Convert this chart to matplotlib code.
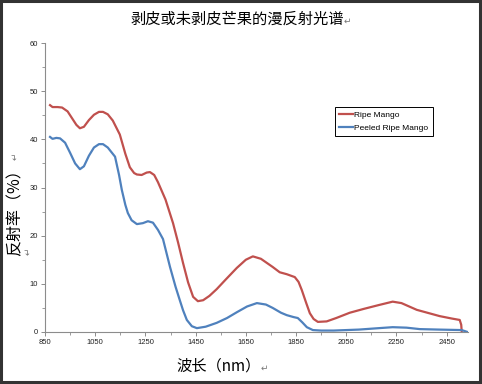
import matplotlib
matplotlib.use("Agg")
from matplotlib import pyplot as plt
from matplotlib.patches import Rectangle
from matplotlib.ticker import MultipleLocator, FixedLocator

plt.rcParams['font.family'] = ['Noto Sans CJK SC', 'DejaVu Sans']

# wavelength (nm) / reflectance (%)
ripe_wl = [870, 880, 900, 918, 940, 960, 975, 989, 1005, 1025, 1045, 1065, 1081, 1100,
           1120, 1148, 1170, 1188, 1205, 1216, 1235, 1255, 1268, 1285, 1300, 1330, 1360,
           1380, 1400, 1420, 1440, 1459, 1480, 1505, 1534, 1570, 1614, 1650, 1678, 1710,
           1757, 1785, 1813, 1845, 1860, 1873, 1890, 1905, 1920, 1937, 1972, 2010, 2064,
           2120, 2180, 2235, 2270, 2331, 2380, 2422, 2470, 2502, 2508, 2510]
ripe_r = [47.1, 46.7, 46.7, 46.6, 45.8, 44.2, 43.0, 42.3, 42.6, 44.0, 45.1, 45.7, 45.7, 45.2,
          43.9, 41.0, 37.0, 34.2, 33.0, 32.7, 32.6, 33.1, 33.2, 32.6, 31.1, 27.5, 22.6,
          18.6, 14.3, 10.3, 7.3, 6.4, 6.6, 7.5, 8.9, 10.9, 13.3, 15.0, 15.7, 15.2,
          13.5, 12.4, 12.0, 11.4, 10.4, 8.7, 6.1, 3.9, 2.7, 2.1, 2.2, 2.9, 4.0,
          4.8, 5.6, 6.3, 6.0, 4.6, 3.9, 3.3, 2.8, 2.5, 1.5, 0.1]

peeled_wl = [870, 880, 895, 910, 930, 950, 970, 989, 1005, 1025, 1045, 1065, 1081, 1100,
             1129, 1145, 1156, 1170, 1180, 1195, 1216, 1240, 1260, 1280, 1300, 1320, 1348,
             1370, 1387, 1400, 1415, 1435, 1455, 1490, 1534, 1575, 1614, 1655, 1694, 1730,
             1757, 1790, 1813, 1840, 1857, 1875, 1893, 1917, 1950, 2000, 2100, 2180, 2235,
             2290, 2343, 2420, 2510, 2533]
peeled_r = [40.5, 40.1, 40.3, 40.2, 39.3, 37.2, 35.0, 33.8, 34.4, 36.6, 38.3, 39.0, 39.0, 38.3,
            36.4, 32.6, 29.5, 26.4, 24.7, 23.2, 22.4, 22.6, 23.0, 22.7, 21.2, 19.3, 13.5,
            9.4, 6.6, 4.5, 2.5, 1.2, 0.8, 1.1, 1.9, 2.9, 4.1, 5.3, 6.0, 5.7,
            5.0, 4.0, 3.5, 3.1, 2.9, 2.0, 1.0, 0.4, 0.3, 0.3, 0.5, 0.8, 1.0,
            0.9, 0.6, 0.5, 0.4, 0.0]

labels = ['Ripe Mango', 'Peeled Ripe Mango']
x_ticks = [850, 1050, 1250, 1450, 1650, 1850, 2050, 2250, 2450]

fig = plt.figure(figsize=(4.82, 3.84), dpi=100)
ax = fig.add_axes([45/482, 1-332/384, 423/482, 289/384])

ax.plot(ripe_wl, ripe_r, color='#C0504D', lw=1.6, label=labels[0], solid_joinstyle='round')
ax.plot(peeled_wl, peeled_r, color='#4F81BD', lw=1.6, label=labels[1], solid_joinstyle='round')

ax.set_xlim(850, 2535)
ax.set_ylim(0, 60)
ax.xaxis.set_major_locator(FixedLocator(x_ticks))
ax.xaxis.set_minor_locator(FixedLocator([t + 100 for t in x_ticks]))
ax.yaxis.set_major_locator(MultipleLocator(10))
ax.yaxis.set_minor_locator(MultipleLocator(5))

for s in ['top', 'right']:
    ax.spines[s].set_visible(False)
for s in ['left', 'bottom']:
    ax.spines[s].set_color('#8c8c8c')
    ax.spines[s].set_linewidth(0.8)
ax.tick_params(which='major', length=3, width=0.7, color='#8c8c8c', labelsize=5.5,
               labelcolor='#222222', pad=2)
ax.tick_params(which='minor', length=2, width=0.6, color='#8c8c8c')
for lab in ax.get_xticklabels() + ax.get_yticklabels():
    lab.set_family('Liberation Sans')

leg = ax.legend(loc='upper left', bbox_to_anchor=(0.686, 0.778), fontsize=6,
                frameon=True, fancybox=False, edgecolor='black', framealpha=1,
                handlelength=1.6, handletextpad=0.2, borderpad=0.5, labelspacing=0.55,
                borderaxespad=0)
leg.get_frame().set_linewidth(0.7)
for t in leg.get_texts():
    t.set_family('Liberation Sans')

arrow_kw = dict(color='#777777', fontsize=6.5, family='DejaVu Sans')

fig.text(237/482, 1-19/384, '剥皮或未剥皮芒果的漫反射光谱', ha='center', va='center',
         fontsize=11)
fig.text(344/482, 1-21/384, '↵', ha='left', va='center', **arrow_kw)

fig.text(15/482, 1-256/384, '反射率（%）', rotation=90, ha='center', va='bottom',
         fontsize=11.5)
fig.text(15/482, 1-156/384, '↵', rotation=90, ha='center', va='center', **arrow_kw)
fig.text(28/482, 1-251/384, '↵', rotation=90, ha='center', va='center', **arrow_kw)

fig.text(176/482, 1-366/384, '波长（nm）', ha='left', va='center', fontsize=11)
fig.text(261/482, 1-368/384, '↵', ha='left', va='center', **arrow_kw)

fig.patches.append(Rectangle((0.002, 0.004), 0.994, 0.994, transform=fig.transFigure,
                             fill=False, edgecolor='#333333', lw=2.2))

fig.savefig('out.png', dpi=100)
